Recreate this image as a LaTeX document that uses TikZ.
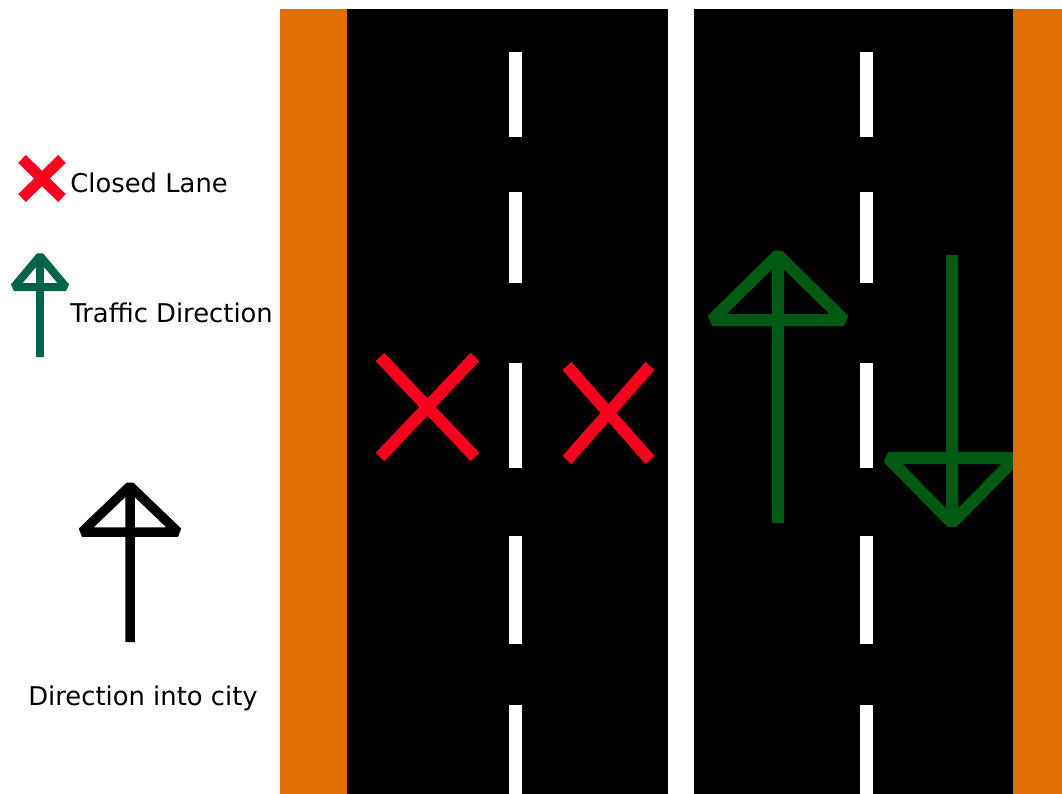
\documentclass[tikz,border=0pt]{standalone}
\usepackage{fontspec}
\setmainfont{DejaVu Sans}
\usepackage{xcolor}
\usepackage{tikz}

\definecolor{shoulderorange}{RGB}{225,110,0}
\definecolor{closedred}{RGB}{250,0,30}
\definecolor{lanegreen}{RGB}{0,90,20}
\definecolor{keygreen}{RGB}{0,100,75}

\begin{document}
\begin{tikzpicture}[x=0.02cm,y=-0.02cm,line join=bevel,
    shoulder/.style={fill=shoulderorange},
    carriageway/.style={fill=black},
    lanemark/.style={fill=white},
    closedx/.style={draw=closedred,line width=0.24cm},
    laneflow/.style={draw=lanegreen,line width=0.24cm},
    keytext/.style={font=\fontsize{14.7}{17}\selectfont,inner sep=0pt,anchor=base west}]
  \useasboundingbox[fill=white] (0,0) rectangle (1062,794);

  % road
  \fill[shoulder] (280,9) rectangle (347,794);
  \fill[carriageway] (347,9) rectangle (668,794);
  \fill[carriageway] (694,9) rectangle (1013,794);
  \foreach \ya/\yb in {52/137,192/283,363/468,536/644,705/794}{
    \fill[lanemark] (509,\ya) rectangle (522,\yb);
    \fill[lanemark] (860,\ya) rectangle (873,\yb);
  }

  % closed lanes
  \draw[closedx] (380,357) -- (475,457) (475,357) -- (380,457);
  \draw[closedx] (567,366) -- (650,460) (650,366) -- (567,460);

  % traffic flow
  \draw[laneflow] (778,523) -- (778,255) (712,320) -- (778,255) -- (844,320) -- cycle;
  \draw[laneflow] (952,255) -- (952,523) (888,458) -- (952,523) -- (1016,458) -- cycle;
  \fill[shoulder] (1013,9) rectangle (1062,794);

  % key
  \draw[closedred,line width=0.22cm] (22,159) -- (62,198) (62,159) -- (22,198);
  \node[keytext] (closedlbl) at (70,193) {Closed Lane};
  \draw[keygreen,line width=0.16cm] (40,357) -- (40,256) (14,287) -- (40,256) -- (66,287) -- cycle;
  \node[keytext] (flowlbl) at (70,322) {Traffic Direction};
  \draw[black,line width=0.19cm] (130,642) -- (130,486) (82,532) -- (130,486) -- (178,532) -- cycle;
  \node[keytext] (citylbl) at (28,705) {Direction into city};
\end{tikzpicture}
\end{document}
